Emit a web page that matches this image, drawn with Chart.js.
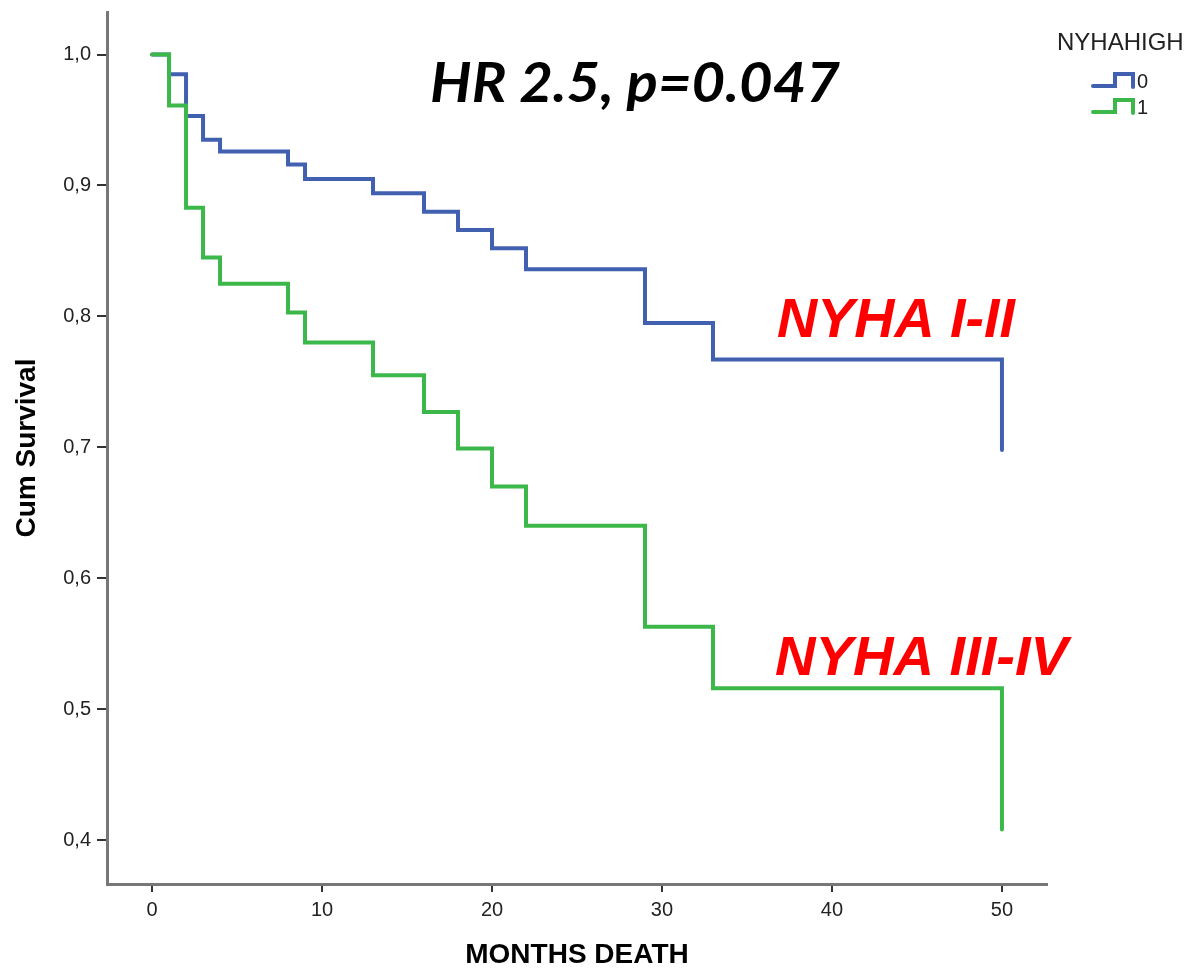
<!DOCTYPE html>
<html>
<head>
<meta charset="utf-8">
<script src="https://cdn.jsdelivr.net/npm/chart.js@4"></script>
<style>
  html, body { margin: 0; padding: 0; background: #fff; }
  #wrap { width: 1192px; height: 972px; position: relative; }
</style>
</head>
<body>
<div id="wrap"><canvas id="kmChart"></canvas></div>
<script>
// Kaplan-Meier steps
const months = [0, 1, 2, 3, 4, 8, 9, 13, 16, 18, 20, 22, 29, 33, 50];
const survivalNyha0 = [1.0, 0.985, 0.953, 0.935, 0.926, 0.916, 0.905, 0.894, 0.880, 0.866, 0.852, 0.836, 0.795, 0.767, 0.698];
const survivalNyha1 = [1.0, 0.961, 0.883, 0.845, 0.825, 0.803, 0.780, 0.755, 0.727, 0.699, 0.670, 0.640, 0.563, 0.516, 0.408];
const groupLabels = ['0', '1'];
const legendTitle = 'NYHAHIGH';
const xTickValues = [0, 10, 20, 30, 40, 50];
const yTickValues = [0.4, 0.5, 0.6, 0.7, 0.8, 0.9, 1.0];
const yTickLabels = ['0,4', '0,5', '0,6', '0,7', '0,8', '0,9', '1,0'];

const blue = '#4160b0';
const green = '#3cb84a';

Chart.defaults.font.family = '"Liberation Sans", Arial, sans-serif';
Chart.defaults.color = '#222';

// text drawn on top of the chart, squeezed to the width seen in the picture
const notes = [
    { text: 'HR 2.5, p=0.047', x: 430, y: 102, w: 410, font: 'italic bold 56px Lato, "Open Sans", sans-serif', color: '#000' },
    { text: 'NYHA I-II', x: 777, y: 337, w: 238, font: 'italic bold 56px "Liberation Sans", Arial, sans-serif', color: '#ff0000' },
    { text: 'NYHA III-IV', x: 775, y: 675, w: 293, font: 'italic bold 56px "Liberation Sans", Arial, sans-serif', color: '#ff0000' }
];

function drawFit(ctx, n) {
    ctx.save();
    ctx.font = n.font;
    ctx.fillStyle = n.color;
    ctx.textBaseline = 'alphabetic';
    ctx.textAlign = 'left';
    const m = ctx.measureText(n.text).width;
    ctx.translate(n.x, n.y);
    ctx.scale(n.w / m, 1);
    ctx.fillText(n.text, 0, 0);
    ctx.restore();
}

const overlay = {
    id: 'overlay',
    afterDraw(chart) {
        const ctx = chart.ctx;
        notes.forEach(n => drawFit(ctx, n));

        // SPSS-style legend with little step icons
        ctx.save();
        ctx.font = '24px "Liberation Sans", Arial, sans-serif';
        ctx.fillStyle = '#222';
        ctx.textBaseline = 'alphabetic';
        ctx.fillText(legendTitle, 1057, 50);
        const colors = [blue, green];
        groupLabels.forEach((lab, i) => {
            const low = 86 + i * 26, high = 74 + i * 26;
            ctx.strokeStyle = colors[i];
            ctx.lineWidth = 4;
            ctx.lineCap = 'round';
            ctx.lineJoin = 'miter';
            ctx.beginPath();
            ctx.moveTo(1093, low);
            ctx.lineTo(1115, low);
            ctx.lineTo(1115, high);
            ctx.lineTo(1133, high);
            ctx.lineTo(1133, low + 1);
            ctx.stroke();
            ctx.fillStyle = '#222';
            ctx.font = '20px "Liberation Sans", Arial, sans-serif';
            ctx.textBaseline = 'middle';
            ctx.fillText(lab, 1137, (low + high) / 2 + 2);
        });
        ctx.restore();
    }
};

const ctx = document.getElementById('kmChart').getContext('2d');
new Chart(ctx, {
    type: 'line',
    data: {
        datasets: [
            {
                label: groupLabels[0],
                data: months.map((m, i) => ({ x: m, y: survivalNyha0[i] })),
                borderColor: blue,
                borderWidth: 4,
                stepped: 'before',
                pointRadius: 0,
                fill: false,
                borderCapStyle: 'round',
                order: 1
            },
            {
                label: groupLabels[1],
                data: months.map((m, i) => ({ x: m, y: survivalNyha1[i] })),
                borderColor: green,
                borderWidth: 4,
                stepped: 'before',
                pointRadius: 0,
                fill: false,
                borderCapStyle: 'round',
                order: 0
            }
        ]
    },
    options: {
        responsive: true,
        maintainAspectRatio: false,
        animation: false,
        layout: { padding: { left: 0, top: 12, right: 145, bottom: 0 } },
        plugins: {
            legend: { display: false },
            tooltip: { enabled: false }
        },
        scales: {
            x: {
                type: 'linear',
                min: -2.65,
                max: 52.65,
                afterBuildTicks: s => { s.ticks = xTickValues.map(v => ({ value: v })); },
                afterFit: s => { s.height = 88; s.paddingLeft = 0; s.paddingRight = 0; },
                ticks: {
                    font: { size: 20 },
                    color: '#222',
                    padding: 6,
                    maxRotation: 0
                },
                grid: {
                    drawOnChartArea: false,
                    drawTicks: true,
                    tickLength: 8,
                    color: '#333',
                    lineWidth: 2
                },
                border: { color: '#777', width: 3 },
                title: {
                    display: true,
                    text: 'MONTHS DEATH',
                    font: { size: 28, weight: 'bold' },
                    color: '#000',
                    padding: { top: 0, bottom: 0 }
                }
            },
            y: {
                type: 'linear',
                min: 0.3664,
                max: 1.0325,
                afterBuildTicks: s => { s.ticks = yTickValues.map(v => ({ value: v })); },
                afterFit: s => { s.width = 107; s.paddingTop = 0; s.paddingBottom = 0; },
                ticks: {
                    font: { size: 20 },
                    color: '#222',
                    padding: 6,
                    callback: (v, i) => yTickLabels[i]
                },
                grid: {
                    drawOnChartArea: false,
                    drawTicks: true,
                    tickLength: 10,
                    color: '#333',
                    lineWidth: 2
                },
                border: { color: '#777', width: 3 },
                title: {
                    display: true,
                    text: 'Cum Survival',
                    font: { size: 28, weight: 'bold' },
                    color: '#000',
                    padding: { top: 10, bottom: 0 }
                }
            }
        }
    },
    plugins: [overlay]
});
</script>
</body>
</html>
